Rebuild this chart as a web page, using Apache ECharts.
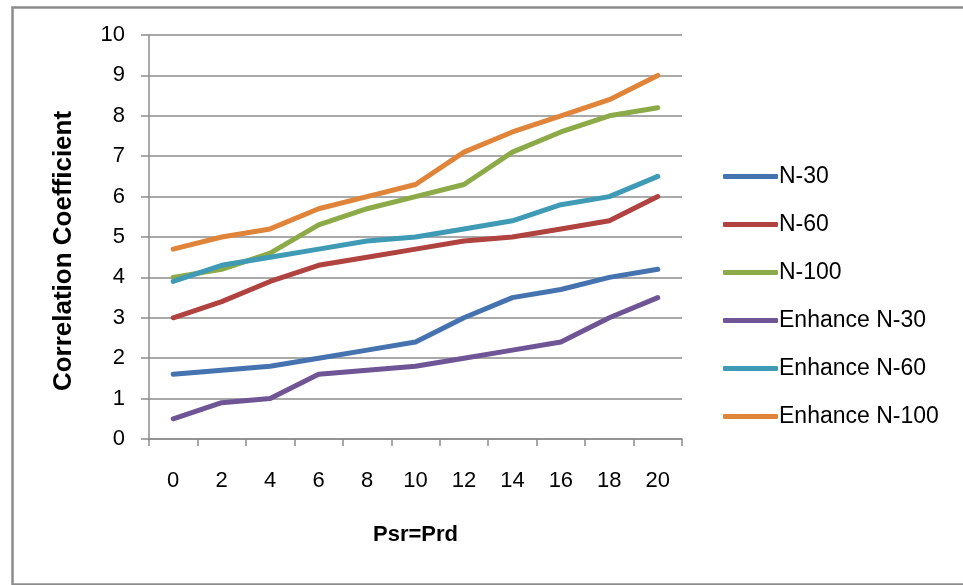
<!DOCTYPE html>
<html>
<head>
<meta charset="utf-8">
<script src="https://cdn.jsdelivr.net/npm/echarts@6/dist/echarts.min.js"></script>
<style>
html,body{margin:0;padding:0;background:#fff;}
#chart{width:963px;height:585px;}
</style>
</head>
<body>
<div id="chart"></div>
<script>
var categories = ['0','2','4','6','8','10','12','14','16','18','20'];
var n30 = [1.6,1.7,1.8,2.0,2.2,2.4,3.0,3.5,3.7,4.0,4.2];
var n60 = [3.0,3.4,3.9,4.3,4.5,4.7,4.9,5.0,5.2,5.4,6.0];
var n100 = [4.0,4.2,4.6,5.3,5.7,6.0,6.3,7.1,7.6,8.0,8.2];
var enhN30 = [0.5,0.9,1.0,1.6,1.7,1.8,2.0,2.2,2.4,3.0,3.5];
var enhN60 = [3.9,4.3,4.5,4.7,4.9,5.0,5.2,5.4,5.8,6.0,6.5];
var enhN100 = [4.7,5.0,5.2,5.7,6.0,6.3,7.1,7.6,8.0,8.4,9.0];
var seriesNames = ['N-30','N-60','N-100','Enhance N-30','Enhance N-60','Enhance N-100'];
var seriesData = [n30,n60,n100,enhN30,enhN60,enhN100];
var xTitle = 'Psr=Prd';
var yTitle = 'Correlation Coefficient';
var colors = ['#4573b0','#b0433f','#8cab48','#6f5595','#3f9bb5','#e0843a'];

var font = '"Liberation Sans", Arial, sans-serif';
var chart = echarts.init(document.getElementById('chart'), null, {renderer:'canvas'});
var series = seriesNames.map(function(n,i){
  return {
    name:n, type:'line', data:seriesData[i], symbol:'none',
    lineStyle:{width:5, color:colors[i], cap:'round', join:'round'},
    itemStyle:{color:colors[i]},
    animation:false
  };
});
chart.setOption({
  animation:false,
  color:colors,
  grid:{left:149, right:281, top:35, height:404},
  graphic:[{
    type:'rect', left:10, top:5, silent:true,
    shape:{x:0,y:0,width:960,height:577},
    style:{fill:'none', stroke:'#8c8c8c', lineWidth:2.5}
  },{
    type:'text', x:64, y:251, rotation:Math.PI/2, silent:true,
    style:{text:yTitle, fontFamily:font, fontSize:26, fontWeight:'bold', fill:'#000',
      align:'center', verticalAlign:'middle'}
  }],
  legend:{
    orient:'vertical', left:718, top:160,
    itemWidth:55, itemHeight:5, itemGap:25,
    icon:'roundRect',
    textStyle:{fontFamily:font, fontSize:23, color:'#000', padding:[0,0,0,-4]},
    data:seriesNames
  },
  xAxis:{
    type:'category', data:categories, boundaryGap:true,
    name:xTitle, nameLocation:'middle', nameGap:85,
    nameTextStyle:{fontFamily:font, fontSize:22, fontWeight:'bold', color:'#000'},
    axisLine:{lineStyle:{color:'#8c8c8c', width:1.5}},
    axisTick:{show:true, length:7, lineStyle:{color:'#8c8c8c', width:1.5}},
    axisLabel:{fontFamily:font, fontSize:22, color:'#000', margin:31},
    splitLine:{show:false}
  },
  yAxis:{
    type:'value', min:0, max:10, interval:1,
    axisLine:{show:true, lineStyle:{color:'#8c8c8c', width:1.5}},
    axisTick:{show:true, length:8, lineStyle:{color:'#8c8c8c', width:1.5}},
    axisLabel:{fontFamily:font, fontSize:22, color:'#000', margin:24},
    splitLine:{show:true, lineStyle:{color:'#8c8c8c', width:1.5}}
  },
  series:series
});
</script>
</body>
</html>
